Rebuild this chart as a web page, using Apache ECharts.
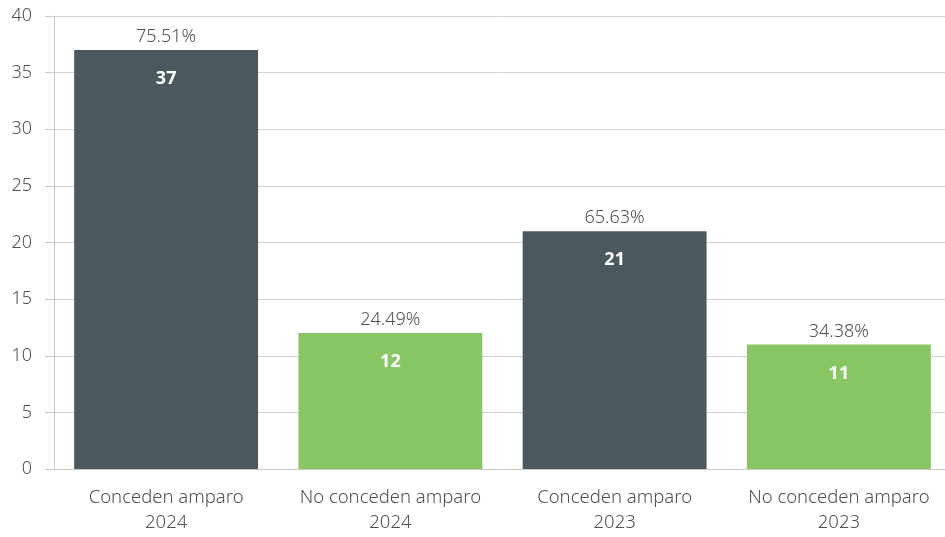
<!DOCTYPE html>
<html>
<head>
<meta charset="utf-8">
<style>
  html, body { margin: 0; padding: 0; background: #fff; overflow: hidden; }
  #chart { width: 951px; height: 537px; }
</style>
<script src="https://cdn.jsdelivr.net/npm/echarts@6/dist/echarts.min.js"></script>
</head>
<body>
<div id="chart"></div>
<script>
// datos del gráfico
const categories = ['Conceden amparo\n2024', 'No conceden amparo\n2024', 'Conceden amparo\n2023', 'No conceden amparo\n2023']
const values = [37, 12, 21, 11]
const percents = ['75.51%', '24.49%', '65.63%', '34.38%']
const barColors = ['#4b585e', '#88c664', '#4b585e', '#88c664']

const fontFamily = '"Noto Sans", "Open Sans", sans-serif'

const chart = echarts.init(document.getElementById('chart'))

chart.setOption({
  animation: false,
  grid: {
    top: 16,
    left: 54,
    right: 0,
    bottom: 68
  },
  xAxis: {
    type: 'category',
    data: categories,
    axisLine: { lineStyle: { color: '#c8c8c8' } },
    axisTick: { show: false },
    axisLabel: {
      interval: 0,
      color: '#505050',
      fontFamily: fontFamily,
      fontSize: 18.5,
      fontWeight: 300,
      lineHeight: 25,
      margin: 16
    }
  },
  yAxis: {
    type: 'value',
    min: 0,
    max: 40,
    interval: 5,
    axisLine: { show: true, lineStyle: { color: '#c8c8c8' } },
    axisTick: { show: true, length: 9, lineStyle: { color: '#c8c8c8' } },
    splitLine: { lineStyle: { color: '#d4d4d4' } },
    axisLabel: {
      color: '#505050',
      fontFamily: fontFamily,
      fontSize: 18,
      fontWeight: 300,
      margin: 22
    }
  },
  series: [
    {
      type: 'bar',
      barCategoryGap: '18%',
      data: values.map((v, i) => ({ value: v, itemStyle: { color: barColors[i] } })),
      label: {
        show: true,
        position: 'insideTop',
        distance: 20,
        color: '#ffffff',
        fontFamily: fontFamily,
        fontSize: 18,
        fontWeight: 'bold'
      }
    },
    {
      // etiquetas de porcentaje sobre las barras
      type: 'bar',
      barGap: '-100%',
      barCategoryGap: '18%',
      data: values,
      itemStyle: { color: 'transparent' },
      silent: true,
      z: 3,
      label: {
        show: true,
        position: 'top',
        distance: 4,
        color: '#505050',
        fontFamily: fontFamily,
        fontSize: 18,
        fontWeight: 300,
        formatter: p => percents[p.dataIndex]
      }
    }
  ]
})
</script>
</body>
</html>
